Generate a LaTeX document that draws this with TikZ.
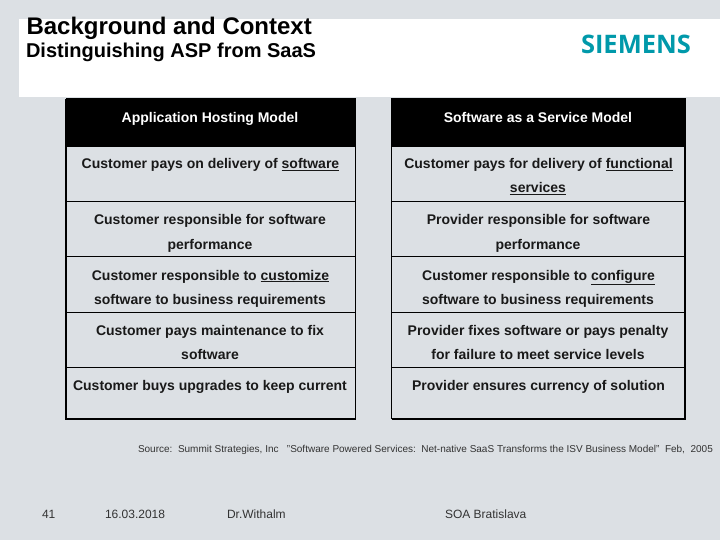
\documentclass[tikz,border=0pt]{standalone}
\usepackage{xcolor}
\usepackage{fontspec}
\setmainfont{Liberation Sans}
\newfontfamily\logofont{Open Sans}
\usetikzlibrary{positioning}
\definecolor{slidegrey}{RGB}{220,224,228}
\definecolor{siemensteal}{RGB}{0,153,170}
\begin{document}
\begin{tikzpicture}[
  x=1pt, y=-1pt,
  every node/.style={inner sep=0pt, outer sep=0pt},
  celltext/.style={font=\fontsize{14}{14}\selectfont\bfseries, text=black!90, anchor=base},
  headtext/.style={font=\fontsize{14}{14}\selectfont\bfseries, text=white, anchor=base},
  headband/.style={fill=black},
  modelbox/.style={draw=black, line width=1pt},
  thickedge/.style={draw=black, line width=2pt},
  rowline/.style={draw=black, line width=0.9pt},
  foottext/.style={font=\fontsize{12}{12}\selectfont, text=black!80, anchor=base west}
]
\useasboundingbox (0,0) rectangle (720,540);
\fill[slidegrey] (0,0) rectangle (720,540);
\fill[white] (19,19) rectangle (720,97);
% titles
\node[anchor=base west, font=\fontsize{24}{24}\selectfont\bfseries] (title) at (26.5,34.5) {Background and Context};
\node[anchor=base west, font=\fontsize{20}{20}\selectfont\bfseries] (subtitle) at (26,58) {Distinguishing ASP from SaaS};
\node[anchor=base west, font=\fontsize{25.5}{25.5}\logofont\bfseries, text=siemensteal] (logo) at (581,54) {SIEMENS};
% left table
\fill[headband] (66,99) rectangle (356,147);
\draw[modelbox] (66,99) rectangle (355.5,418.5);
\draw[thickedge] (66,99) -- (66,418.5) -- (355.5,418.5);
\foreach \rowy in {201.5,256.5,312,367} {
  \draw[rowline] (66,\rowy) -- (355.5,\rowy);
}
% right table
\fill[headband] (391,99) rectangle (686,147);
\draw[modelbox] (391.5,99) rectangle (685,418.5);
\draw[thickedge] (391.5,418.5) -- (685,418.5) -- (685,99);
\foreach \rowy in {201.5,256.5,312,367} {
  \draw[rowline] (391.5,\rowy) -- (685,\rowy);
}
% left column
\node[headtext] (lhead) at (210,123) {Application Hosting Model};
\node[celltext] (lone) at (210.5,169) {Customer pays on delivery of \underline{software}};
\node[celltext] (ltwoa) at (210,225) {Customer responsible for software};
\node[celltext] (ltwob) at (210,249) {performance};
\node[celltext] (lthreea) at (210.5,280) {Customer responsible to \underline{customize}};
\node[celltext] (lthreeb) at (210,304) {software to business requirements};
\node[celltext] (lfoura) at (210,335) {Customer pays maintenance to fix};
\node[celltext] (lfourb) at (210,359) {software};
\node[celltext] (lfive) at (210,390) {Customer buys upgrades to keep current};
% right column
\node[headtext] (rhead) at (538,123) {Software as a Service Model};
\node[celltext] (rone) at (538.5,169) {Customer pays for delivery of \underline{functional}};
\node[celltext] (ronex) at (538,193) {\underline{services}};
\node[celltext] (rtwoa) at (538.5,225) {Provider responsible for software};
\node[celltext] (rtwob) at (538,249) {performance};
\node[celltext] (rthreea) at (538.5,280) {Customer responsible to \underline{configure}};
\node[celltext] (rthreeb) at (538,304) {software to business requirements};
\node[celltext] (rfoura) at (538,335) {Provider fixes software or pays penalty};
\node[celltext] (rfourb) at (538,359) {for failure to meet service levels};
\node[celltext] (rfive) at (538.5,390) {Provider ensures currency of solution};
% source and footer
\node[anchor=base west, font=\fontsize{10}{10}\selectfont, text=black!80] (source) at (138,452) {Source:\ \ Summit Strategies, Inc\ \ \ "Software Powered Services:\ \ Net-native SaaS Transforms the ISV Business Model"\ \ Feb,\ \ 2005};
\node[foottext] (page) at (42,518) {41};
\node[foottext] (date) at (105,518) {16.03.2018};
\node[foottext] (speaker) at (227,518) {Dr.Withalm};
\node[foottext] (venue) at (445,518) {SOA Bratislava};
\end{tikzpicture}
\end{document}
